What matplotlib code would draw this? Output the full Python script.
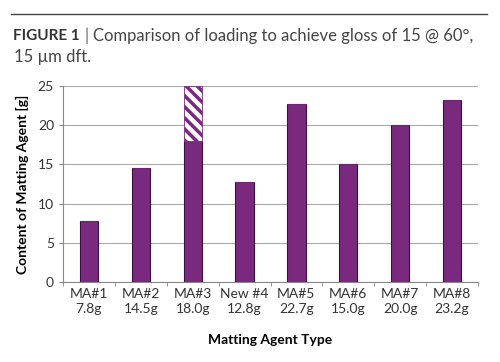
import matplotlib
matplotlib.use("Agg")
from matplotlib import pyplot as plt
import numpy as np

plt.rcParams['font.family'] = ['Lato', 'DejaVu Sans']
plt.rcParams['hatch.linewidth'] = 2.5

names = ['MA#1', 'MA#2', 'MA#3', 'New #4', 'MA#5', 'MA#6', 'MA#7', 'MA#8']
values = [7.8, 14.5, 18.0, 12.8, 22.7, 15.0, 20.0, 23.2]
# MA#3 continues above the plot (hatched part)
extra = [0, 0, 7.0, 0, 0, 0, 0, 0]
labels = [f'{n}\n{v:.1f}g' for n, v in zip(names, values)]

purple = '#7a2a7e'

fig = plt.figure(figsize=(5.0, 3.62), dpi=100)
ax = fig.add_axes([0.126, 0.221, 0.83, 0.541])

x = np.arange(len(values))
ax.bar(x, values, width=0.35, color=purple, edgecolor='#3a1040', linewidth=0.8, zorder=3)
ax.bar(x, extra, width=0.35, bottom=values, color='white', edgecolor=purple,
       hatch='\\\\\\', linewidth=0.6, zorder=3)

ax.set_xlim(-0.5, len(values) - 0.5)
ax.set_ylim(0, 25)
ax.set_yticks([0, 5, 10, 15, 20, 25])
ax.set_xticks(x)
ax.set_xticklabels(labels, fontsize=10, color='#333333', linespacing=1.3)
ax.set_xticks(np.arange(len(values) + 1) - 0.5, minor=True)
ax.tick_params(axis='x', which='major', length=0, pad=4)
ax.tick_params(axis='x', which='minor', length=3, color='#888888')
ax.tick_params(axis='y', length=3, labelsize=10, color='#888888', labelcolor='#333333')

ax.yaxis.grid(True, color='#aaaaaa', linewidth=0.8, zorder=0)
for s in ['top', 'right']:
    ax.spines[s].set_visible(False)
for s in ['left', 'bottom']:
    ax.spines[s].set_color('#888888')

ax.set_ylabel('Content of Matting Agent [g]', fontsize=10, fontweight='bold', labelpad=6)
ax.set_xlabel('Matting Agent Type', fontsize=10, fontweight='bold', labelpad=14)

fig.add_artist(plt.Line2D([0.022, 0.974], [0.961, 0.961], color='#444444', linewidth=1.0,
                          transform=fig.transFigure))
fig.text(0.026, 0.9, 'FIGURE 1', fontsize=11, fontweight='bold', color='#333333', va='center')
fig.text(0.168, 0.9, '|', fontsize=12, color='#666666', va='center')
fig.text(0.186, 0.9, 'Comparison of loading to achieve gloss of 15 @ 60°,',
         fontsize=12, color='#444444', va='center')
fig.text(0.028, 0.843, '15 µm dft.', fontsize=12, color='#444444', va='center')

fig.savefig('out.png', dpi=100)
